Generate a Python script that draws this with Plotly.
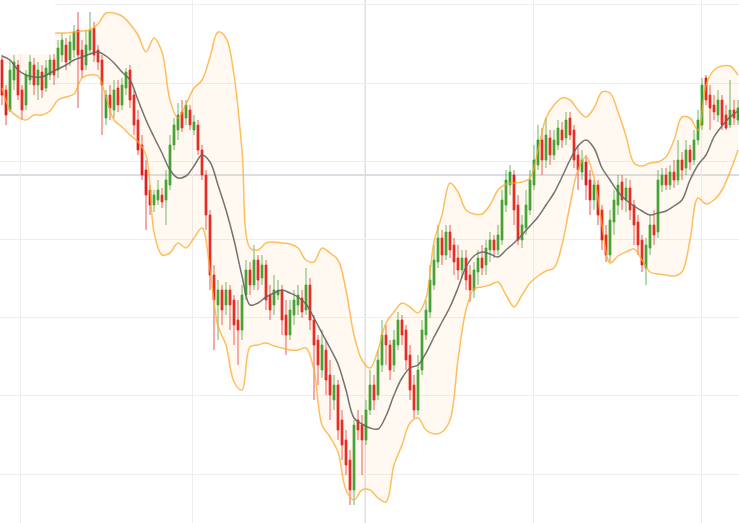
import plotly.graph_objects as go

# ---- OHLC data (one candle per session, index 0..184) ----
open_ = [540,510,490,520,535,510,495,520,535,515,528,512,525,540,530,545,555,540,550,570,
         550,535,550,572,550,540,482,505,490,512,495,512,530,505,480,455,430,410,395,400,
         405,400,415,455,470,488,482,490,470,475,450,425,385,325,295,310,295,310,300,280,
         270,305,330,315,340,322,335,305,295,305,310,285,265,285,295,302,290,315,280,260,
         230,250,225,200,215,180,160,140,110,180,175,160,190,215,205,235,265,255,235,255,
         280,270,245,215,190,230,265,288,315,338,362,345,368,355,342,330,342,325,310,328,
         342,335,350,360,350,360,395,415,425,395,360,372,390,415,435,460,440,462,445,455,
         470,462,482,470,445,428,438,420,400,415,390,365,345,378,395,418,400,412,395,378,
         360,332,352,375,368,415,425,415,428,420,440,432,450,440,460,475,522,505,495,485,
         500,485,475,490,480]
high = [545,515,540,545,540,515,530,545,542,538,535,540,545,550,560,567,562,565,575,588,
        560,570,588,578,555,545,510,515,520,520,522,532,535,510,490,465,440,415,410,420,
        412,430,465,482,497,500,500,495,485,480,455,430,390,335,320,315,318,315,305,300,
        315,340,338,355,345,345,340,315,325,320,315,300,300,310,315,310,332,322,285,265,
        270,260,240,225,220,190,170,150,180,190,185,200,230,225,250,280,275,260,270,288,
        285,275,255,225,245,280,300,335,355,375,370,375,375,362,355,350,350,335,338,350,
        355,360,368,365,375,410,430,435,430,405,385,410,430,455,475,472,482,470,470,480,
        478,488,488,475,455,450,445,430,420,420,395,375,390,410,425,425,422,420,400,385,
        365,362,385,390,430,432,432,435,440,460,448,460,455,470,490,522,525,515,505,510,
        505,495,520,500,500]
low = [495,475,488,510,500,480,490,515,505,500,502,508,520,515,522,538,530,534,542,492,
       522,530,545,538,530,465,475,480,482,488,490,505,492,465,445,420,370,385,388,395,
       392,375,410,450,460,468,475,470,465,445,420,370,310,250,260,275,285,270,255,235,
       260,300,305,310,310,315,290,280,285,300,265,245,260,275,285,282,285,270,200,215,
       222,205,180,190,160,140,125,95,95,160,125,155,185,190,200,228,235,220,228,250,
       255,230,200,182,185,225,260,282,310,332,335,340,342,325,320,322,310,298,302,315,
       325,325,338,342,345,355,388,405,375,355,352,365,385,410,430,425,432,435,440,450,
       452,455,460,432,410,420,400,385,390,375,350,338,338,365,385,390,388,380,355,345,
       328,315,345,355,362,408,410,410,412,415,420,425,430,435,455,470,495,470,480,478,
       470,470,472,475,475]
close = [505,485,530,538,505,490,525,538,515,530,510,532,540,525,552,560,538,558,568,545,
         530,555,570,545,538,515,505,492,510,495,515,528,500,475,450,425,405,395,405,410,
         398,420,455,475,485,472,495,475,478,450,425,385,325,300,310,290,310,295,275,270,
         305,330,315,340,320,335,300,290,310,310,280,265,290,300,305,288,315,280,255,235,
         255,220,205,215,170,155,135,110,175,170,160,190,215,200,240,265,255,230,260,280,
         265,240,210,190,230,270,290,320,340,362,345,368,350,338,330,342,320,310,330,342,
         332,352,360,350,365,400,420,428,390,360,375,395,420,440,460,440,465,445,460,472,
         460,480,465,440,430,440,415,400,415,385,360,345,380,400,415,400,412,390,375,355,
         335,355,375,365,420,425,415,428,420,440,430,450,438,460,480,515,500,492,488,500,
         475,472,490,482,492]

# ---- Bollinger band values read every second session ----
band_idx = list(range(0, 185, 2))
upper = [558,560,562,563,564,565,566,567,567,568,569,570,576,587,587,584,576,565,548,562,
         548,500,482,496,512,520,543,568,562,525,450,352,350,357,358,357,356,352,340,338,
         352,347,340,310,265,240,232,250,277,288,297,293,287,302,358,385,417,408,390,386,
         386,395,410,416,417,418,422,450,482,495,502,500,490,483,492,508,507,488,464,437,
         434,437,438,443,460,483,482,470,515,530,534,534,525]
middle = [544,540,530,525,523,523,527,531,535,540,543,546,548,544,537,528,520,500,480,463,
          447,430,422,424,434,445,438,415,390,360,324,295,297,303,307,310,307,303,296,282,
          267,252,236,210,182,176,172,171,184,205,222,232,235,247,263,278,293,312,333,344,
          348,346,343,350,357,365,374,383,395,407,423,440,454,460,452,432,420,408,400,394,
          389,385,387,389,394,400,420,435,445,463,474,483,489]
lower = [512,490,483,480,485,485,489,500,503,506,522,525,524,503,480,473,465,458,445,368,
         345,347,357,352,362,372,330,274,255,218,210,253,255,257,254,252,250,250,252,230,
         175,163,148,110,100,110,110,102,98,135,155,177,182,170,166,168,180,240,290,311,
         313,315,318,305,293,305,317,324,329,332,355,395,430,443,422,375,337,344,348,351,
         340,328,326,325,324,328,360,402,396,400,410,428,450]

grid_x = [4.5, 47.5, 90.5, 132.75, 174.75]
cross_x = 90.75
cross_y = 425

fig = go.Figure()
band_color = "rgba(255,170,40,0.75)"
fig.add_trace(go.Scatter(x=band_idx, y=upper, mode="lines", line=dict(color=band_color, width=1.5, shape="spline"),
                         hoverinfo="skip", showlegend=False))
fig.add_trace(go.Scatter(x=band_idx, y=lower, mode="lines", line=dict(color=band_color, width=1.5, shape="spline"),
                         fill="tonexty", fillcolor="rgba(255,200,120,0.1)", hoverinfo="skip", showlegend=False))
fig.add_trace(go.Candlestick(
    x=list(range(len(close))), open=open_, high=high, low=low, close=close,
    increasing=dict(line=dict(color="rgba(50,160,45,0.75)", width=1), fillcolor="#33a02c"),
    decreasing=dict(line=dict(color="rgba(228,30,30,0.75)", width=1), fillcolor="#e31a1c"),
    whiskerwidth=0, showlegend=False))
fig.add_trace(go.Scatter(x=band_idx, y=middle, mode="lines", line=dict(color="rgba(100,100,100,0.9)", width=1.5, shape="spline"),
                         hoverinfo="skip", showlegend=False))

fig.add_shape(type="line", xref="x", yref="paper", x0=cross_x, x1=cross_x, y0=0, y1=1,
              line=dict(color="#d6d6d6", width=1.5), layer="below")
fig.add_shape(type="line", xref="paper", yref="y", x0=0, x1=1, y0=cross_y, y1=cross_y,
              line=dict(color="#b6bdc9", width=1), layer="below")
fig.add_shape(type="rect", xref="paper", yref="paper", x0=0, x1=55/739, y0=1-54/523, y1=1,
              fillcolor="white", line=dict(width=0), layer="above")

fig.update_layout(
    width=739, height=523, margin=dict(l=0, r=0, t=0, b=0),
    paper_bgcolor="white", plot_bgcolor="white", showlegend=False,
    xaxis=dict(range=[-0.5, 184.25], tickvals=grid_x, showticklabels=False, showgrid=True,
               gridcolor="#eeeeee", gridwidth=1, zeroline=False, showline=False,
               rangeslider=dict(visible=False), ticks=""),
    yaxis=dict(range=[77, 600], tick0=126, dtick=78.17, showticklabels=False, showgrid=True,
               gridcolor="#eeeeee", gridwidth=1, zeroline=False, showline=False, ticks=""),
)
fig.write_html("out.html", config={"displayModeBar": False},
               post_script="document.body.style.margin='0';document.body.style.overflow='hidden';")
